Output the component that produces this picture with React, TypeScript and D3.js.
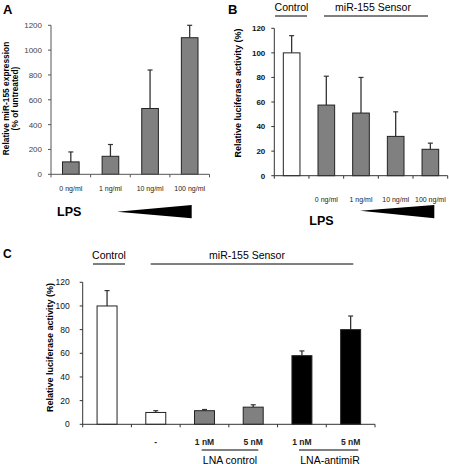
import React from "react";
import * as d3 from "d3";

// Panel A
const aCategories = ["0 ng/ml", "1 ng/ml", "10 ng/ml", "100 ng/ml"];
const aValues = [100, 145, 530, 1100];
const aErrors = [80, 95, 310, 100];
const aTicks = [0, 200, 400, 600, 800, 1000, 1200];

// Panel B
const bCategories = ["", "0 ng/ml", "1 ng/ml", "10 ng/ml", "100 ng/ml"];
const bValues = [100, 57.5, 51, 32, 21.5];
const bErrors = [14, 23.5, 29, 20, 5];
const bFills = ["#ffffff", "#808080", "#808080", "#808080", "#808080"];
const bTicks = [0, 20, 40, 60, 80, 100, 120];

// Panel C
const cCategories = ["", "-", "1 nM", "5 nM", "1 nM", "5 nM"];
const cValues = [100, 10, 11.5, 14.5, 58, 80];
const cErrors = [13, 1.5, 1, 2, 4, 11.5];
const cFills = ["#ffffff", "#ffffff", "#808080", "#808080", "#000000", "#000000"];
const cTicks = [0, 20, 40, 60, 80, 100, 120];

const FONT = "'Liberation Sans', Arial, Helvetica, sans-serif";

type PanelProps = {
  categories: string[];
  values: number[];
  errors: number[];
  fills: string[];
  ticks: number[];
  yMax: number;
  x0: number;
  x1: number;
  yTop: number;
  yBottom: number;
  barRatio: number;
  tickBold: boolean;
  tickColor: string;
  axisColor: string;
  tickFont: number;
  tickGap: number;
  catFont: number;
  catBold: boolean;
  catY: number;
};

function Panel(p: PanelProps) {
  const x = d3
    .scaleBand<string>()
    .domain(p.categories.map((_, i) => String(i)))
    .range([p.x0, p.x1])
    .paddingInner(1 - p.barRatio)
    .paddingOuter((1 - p.barRatio) / 2);
  const y = d3.scaleLinear().domain([0, p.yMax]).range([p.yBottom, p.yTop]);
  const step = x.step();
  const bw = x.bandwidth();
  const boundaries = d3.range(p.categories.length + 1).map((i) => p.x0 + i * step);
  return (
    <g>
      {p.values.map((v, i) => {
        const cx = (x(String(i)) as number) + bw / 2;
        const top = y(v + p.errors[i]);
        return (
          <g key={"e" + i}>
            <line x1={cx} x2={cx} y1={y(v)} y2={top} stroke="#333" strokeWidth={1.3} />
            <line x1={cx - 2.5} x2={cx + 2.5} y1={top} y2={top} stroke="#333" strokeWidth={1.2} />
          </g>
        );
      })}
      {p.values.map((v, i) => (
        <rect
          key={"b" + i}
          x={x(String(i))}
          y={y(v)}
          width={bw}
          height={y(0) - y(v)}
          fill={p.fills[i]}
          stroke="#222"
          strokeWidth={1}
        />
      ))}
      <line x1={p.x0} x2={p.x0} y1={y(p.yMax)} y2={y(0)} stroke={p.axisColor} strokeWidth={1} />
      <line x1={p.x0} x2={p.x1} y1={y(0)} y2={y(0)} stroke={p.axisColor} strokeWidth={1} />
      {boundaries.map((bx, i) => (
        <line key={"xt" + i} x1={bx} x2={bx} y1={y(0)} y2={y(0) + 3} stroke={p.axisColor} strokeWidth={1} />
      ))}
      {p.ticks.map((t) => (
        <g key={"yt" + t}>
          <line x1={p.x0 - 3} x2={p.x0} y1={y(t)} y2={y(t)} stroke={p.axisColor} strokeWidth={1} />
          <text
            x={p.x0 - p.tickGap}
            y={y(t) + p.tickFont * 0.36}
            textAnchor="end"
            fontSize={p.tickFont}
            fontWeight={p.tickBold ? "bold" : "normal"}
            fill={p.tickColor}
            fontFamily={FONT}
          >
            {t}
          </text>
        </g>
      ))}
      {p.categories.map((c, i) =>
        c ? (
          <text
            key={"c" + i}
            x={(x(String(i)) as number) + bw / 2}
            y={p.catY}
            textAnchor="middle"
            fontSize={p.catFont}
            fontWeight={p.catBold ? "bold" : "normal"}
            fill="#222"
            fontFamily={FONT}
          >
            {c}
          </text>
        ) : null
      )}
    </g>
  );
}

export default function App() {
  return (
    <svg
      width={449}
      height={464}
      style={{ position: "absolute", left: 0, top: 0, background: "#fff" }}
      fontFamily={FONT}
    >
      <rect x={0} y={0} width={449} height={464} fill="#fff" />
      {/* Panel A */}
      <text x={3} y={14} fontSize={13} fontWeight="bold">A</text>
      <text transform="translate(8.5,98.5) rotate(-90)" textAnchor="middle" fontSize={8.4} fontWeight="bold">
        Relative miR-155 expression
      </text>
      <text transform="translate(17.5,98.5) rotate(-90)" textAnchor="middle" fontSize={8.4} fontWeight="bold">
        (% of untreated)
      </text>
      <Panel
        categories={aCategories}
        values={aValues}
        errors={aErrors}
        fills={["#808080", "#808080", "#808080", "#808080"]}
        ticks={aTicks}
        yMax={1200}
        x0={51}
        x1={209.5}
        yTop={25.3}
        yBottom={174.3}
        barRatio={0.42}
        tickBold={false}
        tickColor="#444"
        axisColor="#555"
        tickFont={8}
        tickGap={9}
        catFont={7}
        catBold={false}
        catY={191}
      />
      <text x={57} y={216} fontSize={12.5} fontWeight="bold">LPS</text>
      <polygon points="117,211.7 191.7,205 191.7,218.3" fill="#000" />

      {/* Panel B */}
      <text x={228} y={14} fontSize={13} fontWeight="bold">B</text>
      <text transform="translate(241,93) rotate(-90)" textAnchor="middle" fontSize={9} fontWeight="bold">
        Relative luciferase activity (%)
      </text>
      <text x={291.5} y={11} fontSize={10.5} textAnchor="middle">Control</text>
      <line x1={275} x2={307} y1={16} y2={16} stroke="#000" strokeWidth={1} />
      <text x={373} y={11} fontSize={10.5} textAnchor="middle">miR-155 Sensor</text>
      <line x1={324} x2={428} y1={16} y2={16} stroke="#000" strokeWidth={1} />
      <Panel
        categories={bCategories}
        values={bValues}
        errors={bErrors}
        fills={bFills}
        ticks={bTicks}
        yMax={120}
        x0={274.3}
        x1={447.7}
        yTop={28.3}
        yBottom={175.7}
        barRatio={0.48}
        tickBold={true}
        tickColor="#111"
        axisColor="#333"
        tickFont={8}
        tickGap={9}
        catFont={7}
        catBold={false}
        catY={202}
      />
      <text x={321.5} y={225} fontSize={12.5} fontWeight="bold" textAnchor="middle">LPS</text>
      <polygon points="360,210.7 434.3,205 434.3,218.3" fill="#000" />

      {/* Panel C */}
      <text x={3} y={258} fontSize={12} fontWeight="bold">C</text>
      <text transform="translate(53,347.5) rotate(-90)" textAnchor="middle" fontSize={9} fontWeight="bold">
        Relative luciferase activity (%)
      </text>
      <text x={109} y={259} fontSize={10.5} textAnchor="middle">Control</text>
      <line x1={93} x2={125} y1={264} y2={264} stroke="#000" strokeWidth={1} />
      <text x={247} y={259} fontSize={10.5} textAnchor="middle">miR-155  Sensor</text>
      <line x1={150.7} x2={353.3} y1={264} y2={264} stroke="#000" strokeWidth={1} />
      <Panel
        categories={cCategories}
        values={cValues}
        errors={cErrors}
        fills={cFills}
        ticks={cTicks}
        yMax={120}
        x0={82.7}
        x1={375}
        yTop={282.3}
        yBottom={424.3}
        barRatio={0.41}
        tickBold={false}
        tickColor="#111"
        axisColor="#333"
        tickFont={8.5}
        tickGap={13}
        catFont={8.5}
        catBold={true}
        catY={444.5}
      />
      <line x1={201.7} x2={258.3} y1={450} y2={450} stroke="#000" strokeWidth={1} />
      <line x1={299} x2={358.3} y1={450} y2={450} stroke="#000" strokeWidth={1} />
      <text x={230} y={463.5} fontSize={10.5} textAnchor="middle">LNA control</text>
      <text x={330} y={463.5} fontSize={10.5} textAnchor="middle">LNA-antimiR</text>
    </svg>
  );
}
